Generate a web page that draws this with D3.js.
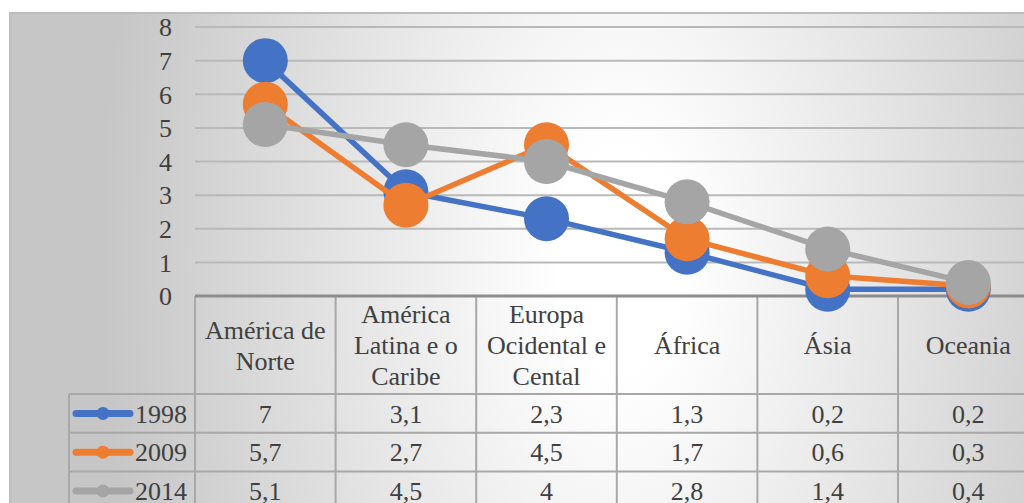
<!DOCTYPE html>
<html>
<head>
<meta charset="utf-8">
<script src="https://cdn.jsdelivr.net/npm/d3@7"></script>
<style>
  html, body { margin: 0; padding: 0; background: #fff; }
  svg { display: block; }
  svg text { font-family: "Liberation Serif", "Times New Roman", Times, "DejaVu Serif", serif !important; fill: #404040; }
</style>
</head>
<body>
<svg id="chart" width="1024" height="503"></svg>
<script>
// ---- data ----
const categories = ["América de Norte", "América Latina e o Caribe", "Europa Ocidental e Cental", "África", "Ásia", "Oceania"];
const seriesNames = ["1998", "2009", "2014"];
const values1998 = [7, 3.1, 2.3, 1.3, 0.2, 0.2];
const values2009 = [5.7, 2.7, 4.5, 1.7, 0.6, 0.3];
const values2014 = [5.1, 4.5, 4, 2.8, 1.4, 0.4];
const yTicks = [0, 1, 2, 3, 4, 5, 6, 7, 8];
const seriesColors = ["#4472C4", "#ED7D31", "#A5A5A5"];

const series = seriesNames.map((n, i) => ({ name: n, values: [values1998, values2009, values2014][i], color: seriesColors[i] }));
const fmt = v => String(v).replace(".", ",");
const FONT = '"Liberation Serif", "Times New Roman", Times, "DejaVu Serif", serif';

const svg = d3.select("#chart");
const W = 1024, H = 503;

// background gradient
const defs = svg.append("defs");
const grad = defs.append("radialGradient").attr("id", "bg")
  .attr("gradientUnits", "userSpaceOnUse")
  .attr("cx", 620).attr("cy", 260).attr("r", 520)
  .attr("gradientTransform", "translate(620,260) scale(1,1.8) translate(-620,-260)");
grad.append("stop").attr("offset", 0).attr("stop-color", "#ffffff");
grad.append("stop").attr("offset", 0.12).attr("stop-color", "#ffffff");
grad.append("stop").attr("offset", 1).attr("stop-color", "#c6c6c6");

svg.append("rect").attr("x", 10).attr("y", 13).attr("width", W).attr("height", H)
  .attr("fill", "url(#bg)");
svg.append("path").attr("d", `M10,${H} V13 H${W}`).attr("fill", "none")
  .attr("stroke", "#bdbdbd").attr("stroke-width", 2);

// scales
const plotLeft = 195, colW = 140.6;
const x = d3.scaleBand().domain(categories).range([plotLeft, plotLeft + colW * categories.length]).padding(0);
const y = d3.scaleLinear().domain([0, 8]).range([296, 27]);
const cx = c => x(c) + x.bandwidth() / 2;

// gridlines
svg.append("g").selectAll("line").data(yTicks.filter(t => t > 0)).join("line")
  .attr("x1", plotLeft).attr("x2", W).attr("y1", d => y(d)).attr("y2", d => y(d))
  .attr("stroke", "#b9b9b9").attr("stroke-width", 2);

// y axis labels
const yAxis = d3.axisLeft(y).tickValues(yTicks).tickSize(0).tickPadding(0).tickFormat(d3.format("d"));
const gy = svg.append("g").attr("transform", "translate(172,0)").call(yAxis);
gy.attr("font-family", FONT).attr("font-size", 26);
gy.select(".domain").remove();
gy.selectAll("text").attr("font-size", 26).attr("font-family", FONT).attr("fill", "#404040").attr("dy", "0.34em");

// table
const headerTop = 296, headerBottom = 394;
const rowH = 38.8;
const tableLeft = 69;
const rowY = i => headerBottom + i * rowH;
const lineColor = "#a8a8a8";
const tg = svg.append("g");
const vx = categories.map(c => x(c));
tg.selectAll("line.v").data(vx).join("line").attr("class", "v")
  .attr("x1", d => d).attr("x2", d => d).attr("y1", headerTop).attr("y2", H)
  .attr("stroke", lineColor).attr("stroke-width", 2);
tg.append("line").attr("x1", tableLeft).attr("x2", tableLeft).attr("y1", headerBottom).attr("y2", H)
  .attr("stroke", lineColor).attr("stroke-width", 2);
tg.selectAll("line.h").data(d3.range(series.length + 1)).join("line").attr("class", "h")
  .attr("x1", tableLeft).attr("x2", W).attr("y1", d => rowY(d)).attr("y2", d => rowY(d))
  .attr("stroke", lineColor).attr("stroke-width", 2);
tg.append("line").attr("x1", plotLeft).attr("x2", W).attr("y1", headerTop).attr("y2", headerTop)
  .attr("stroke", "#8c8c8c").attr("stroke-width", 3);

// header labels with wrapping
const headG = svg.append("g").attr("font-family", FONT);
categories.forEach(c => {
  const words = c.split(" ");
  const lines = [];
  const probe = headG.append("text").attr("font-size", 26).attr("font-family", FONT);
  let cur = "";
  words.forEach(w => {
    const test = cur ? cur + " " + w : w;
    probe.text(test);
    if (probe.node().getComputedTextLength() > 128 && cur) { lines.push(cur); cur = w; }
    else cur = test;
  });
  lines.push(cur);
  probe.remove();
  const lh = 31;
  const mid = (headerTop + headerBottom) / 2;
  const t = headG.append("text").attr("font-size", 26).attr("font-family", FONT).attr("text-anchor", "middle");
  lines.forEach((ln, i) => {
    t.append("tspan").attr("x", cx(c)).attr("y", mid + (i - (lines.length - 1) / 2) * lh).attr("dy", "0.35em").text(ln);
  });
});

// data rows
series.forEach((s, i) => {
  const yc = rowY(i) + rowH / 2;
  svg.append("g").attr("font-family", FONT).selectAll("text").data(s.values).join("text")
    .attr("x", (d, j) => cx(categories[j])).attr("y", yc).attr("dy", "0.35em")
    .attr("text-anchor", "middle").attr("font-size", 26).attr("font-family", FONT).text(d => fmt(d));
  svg.append("line").attr("x1", 76).attr("x2", 130).attr("y1", yc).attr("y2", yc)
    .attr("stroke", s.color).attr("stroke-width", 7).attr("stroke-linecap", "round");
  svg.append("circle").attr("cx", 103).attr("cy", yc).attr("r", 6.5).attr("fill", s.color);
  svg.append("text").attr("x", 187).attr("y", yc).attr("dy", "0.35em").attr("text-anchor", "end")
    .attr("font-size", 26).attr("font-family", FONT).text(s.name);
});

// series lines & markers
const line = d3.line().x((d, j) => cx(categories[j])).y(d => y(d));
series.forEach(s => {
  const g = svg.append("g");
  g.append("path").datum(s.values).attr("d", line).attr("fill", "none")
    .attr("stroke", s.color).attr("stroke-width", 5.5).attr("stroke-linejoin", "round");
  g.selectAll("circle").data(s.values).join("circle")
    .attr("cx", (d, j) => cx(categories[j])).attr("cy", d => y(d)).attr("r", 22.5)
    .attr("fill", s.color);
});
</script>
</body>
</html>
